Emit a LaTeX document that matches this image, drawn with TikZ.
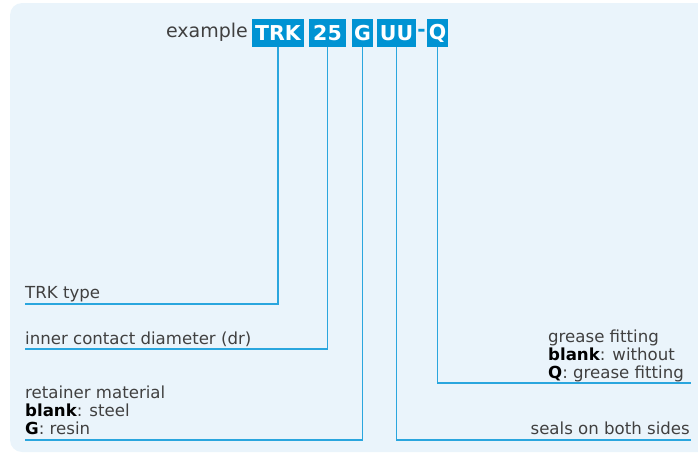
\documentclass[tikz,border=0pt]{standalone}
\usepackage{fontspec}
\setmainfont{DejaVu Sans}
\definecolor{bgblue}{HTML}{EAF4FB}
\definecolor{boxblue}{HTML}{0093D3}
\definecolor{lineblue}{HTML}{2AA6DE}
\definecolor{txtgray}{HTML}{404040}
\begin{document}
\begin{tikzpicture}[x=1pt,y=-1pt,
  codebox/.style={fill=boxblue,text=white,inner sep=0pt,minimum height=28pt,
    font=\bfseries\fontsize{20.5}{20.5}\selectfont},
  lbl/.style={inner sep=0pt,text=txtgray,font=\fontsize{16.6}{17.5}\selectfont},
  conn/.style={draw=lineblue,line width=1.6pt}]
\useasboundingbox (0,0) rectangle (698,453);
\clip (0,0) rectangle (698,453);
\fill[bgblue,rounded corners=12pt] (10,3) rectangle (740,452);
% title
\node[inner sep=0pt,text=txtgray,font=\fontsize{19}{19}\selectfont,anchor=base east] (ex) at (248,37) {example};
\node[codebox,minimum width=52pt] (trk) at (278,33) {TRK};
\node[codebox,minimum width=37pt] (n25) at (327.5,33) {25};
\node[codebox,minimum width=21pt] (g) at (362.5,33) {G};
\node[codebox,minimum width=39pt] (uu) at (396.5,33) {UU};
\node[inner sep=0pt,text=boxblue,font=\bfseries\fontsize{20}{20}\selectfont] (dash) at (421.5,33) {-};
\node[codebox,minimum width=21pt] (q) at (437.5,33) {Q};
% end points
\coordinate (trkend) at (25,304);
\coordinate (n25end) at (25,349);
\coordinate (gend) at (25,440);
\coordinate (uuend) at (691,440);
\coordinate (qend) at (691,383);
% connectors
\draw[conn] (trk.south) |- (trkend);
\draw[conn] (n25.south) |- (n25end);
\draw[conn] (g.south) |- (gend);
\draw[conn] (uu.south) |- (uuend);
\draw[conn] (q.south) |- (qend);
% labels
\node[lbl,anchor=base west] (ltrk) at (25,298) {TRK type};
\node[lbl,anchor=base west] (l25) at (25,344) {inner contact diameter (dr)};
\node[lbl,anchor=base west] (lg1) at (25,398) {retainer material};
\node[lbl,anchor=base west] (lg2) at (25,416) {\textcolor{black}{\bfseries blank}: steel};
\node[lbl,anchor=base west] (lg3) at (25,434) {\textcolor{black}{\bfseries G}: resin};
\node[lbl,anchor=base west] (lq1) at (548,342) {grease fitting};
\node[lbl,anchor=base west] (lq2) at (548,360) {\textcolor{black}{\bfseries blank}: without};
\node[lbl,anchor=base west] (lq3) at (548,378) {\textcolor{black}{\bfseries Q}: grease fitting};
\node[lbl,anchor=base east] (luu) at (690,434) {seals on both sides};
\end{tikzpicture}
\end{document}
